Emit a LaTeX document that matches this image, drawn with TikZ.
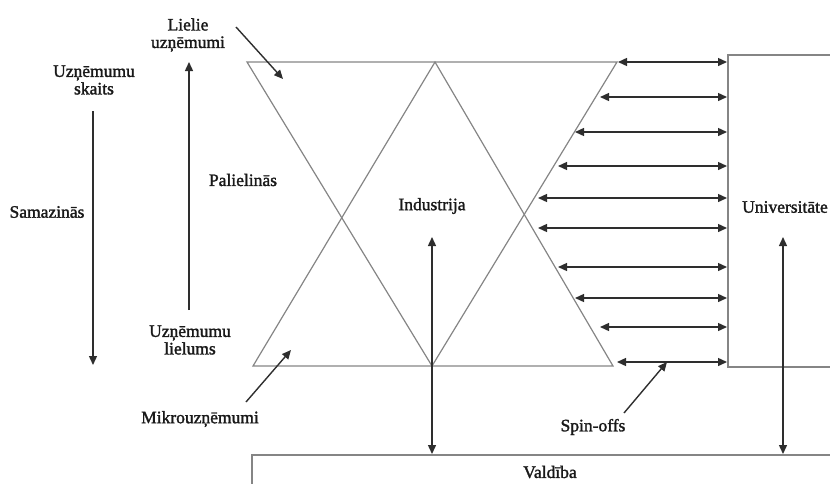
\documentclass[tikz,border=0pt]{standalone}
\usepackage{fontspec}
\setmainfont{Liberation Serif}
\newfontfamily\lblfont{Liberation Serif}[FakeBold=1.6]
\usetikzlibrary{arrows.meta}
\definecolor{lgray}{HTML}{858585}
\definecolor{dark}{HTML}{2E2E2E}
\tikzset{
  tri/.style={draw=lgray, line width=1.2pt},
  boxline/.style={draw=lgray, line width=1.4pt},
  arr/.style={draw=dark, line width=1.4pt, -{Triangle[length=9pt,width=8pt]}},
  darr/.style={draw=dark, line width=1.4pt, {Triangle[length=9pt,width=8pt]}-{Triangle[length=9pt,width=8pt]}},
  lbl/.style={text=black!90, font=\lblfont\fontsize{17.5}{17.5}\selectfont, align=center, inner sep=0pt},
}
\begin{document}
\begin{tikzpicture}[x=1pt,y=-1pt]
\useasboundingbox (0,0) rectangle (830,483);
% triangle vertices
\coordinate (tl) at (247,62);
\coordinate (tr) at (617,62);
\coordinate (tm) at (435,62);
\coordinate (bl) at (253,366);
\coordinate (br) at (613,366);
\coordinate (bm) at (432,366);
\draw[tri] (tl) -- (tr) -- (bm) -- cycle;
\draw[tri] (bl) -- (br) -- (tm) -- cycle;
% Universitate box
\coordinate (u1) at (831,55);
\coordinate (u2) at (728,55);
\coordinate (u3) at (728,367);
\coordinate (u4) at (831,367);
\draw[boxline] (u1) -- (u2) -- (u3) -- (u4);
% Valdiba box
\coordinate (v1) at (252,484);
\coordinate (v2) at (252,455);
\coordinate (v3) at (831,455);
\draw[boxline] (v1) -- (v2) -- (v3);
% labels
\node[lbl] (industrija) at (432,206) {Industrija};
\node[lbl] (univ) at (785,207) {Universitāte};
\node[lbl] (valdiba) at (550,472) {Valdība};
\node[lbl] (spin) at (593,427) {Spin-offs};
\node[lbl] (mikro) at (200,419) {Mikrouzņēmumi};
\node[lbl] (lielie) at (188,35) {Lielie\\uzņēmumi};
\node[lbl] (skaits) at (94,80) {Uzņēmumu\\skaits};
\node[lbl] (lielums) at (190,340) {Uzņēmumu\\lielums};
\node[lbl] (samaz) at (47,212) {Samazinās};
\node[lbl] (paliel) at (243,180) {Palielinās};
% horizontal double arrows
\foreach \i/\xl/\yy in {1/618/62, 2/600/97, 3/575/132, 4/558/166, 5/538/198, 6/538/228, 7/558/267, 8/575/298, 9/600/327, 10/617/362}{
  \coordinate (h\i l) at (\xl,\yy);
  \coordinate (h\i r) at (727,\yy);
  \draw[darr] (h\i l) -- (h\i r);
}
% vertical arrows
\coordinate (indtop) at (432,237);
\coordinate (indbot) at (432,454);
\draw[darr] (indtop) -- (indbot);
\coordinate (unitop) at (783,237);
\coordinate (unibot) at (783,454);
\draw[darr] (unitop) -- (unibot);
% left arrows
\coordinate (s1) at (93,111);
\coordinate (s2) at (93,365);
\draw[arr] (s1) -- (s2);
\coordinate (p1) at (189,310);
\coordinate (p2) at (189,62);
\draw[arr] (p1) -- (p2);
% pointer arrows
\coordinate (la) at (236,27);
\coordinate (lb) at (283,79);
\draw[arr] (la) -- (lb);
\coordinate (ma) at (246,402);
\coordinate (mb) at (291,350);
\draw[arr] (ma) -- (mb);
\coordinate (sa) at (624,413);
\coordinate (sb) at (667,362);
\draw[arr] (sa) -- (sb);
\end{tikzpicture}
\end{document}
